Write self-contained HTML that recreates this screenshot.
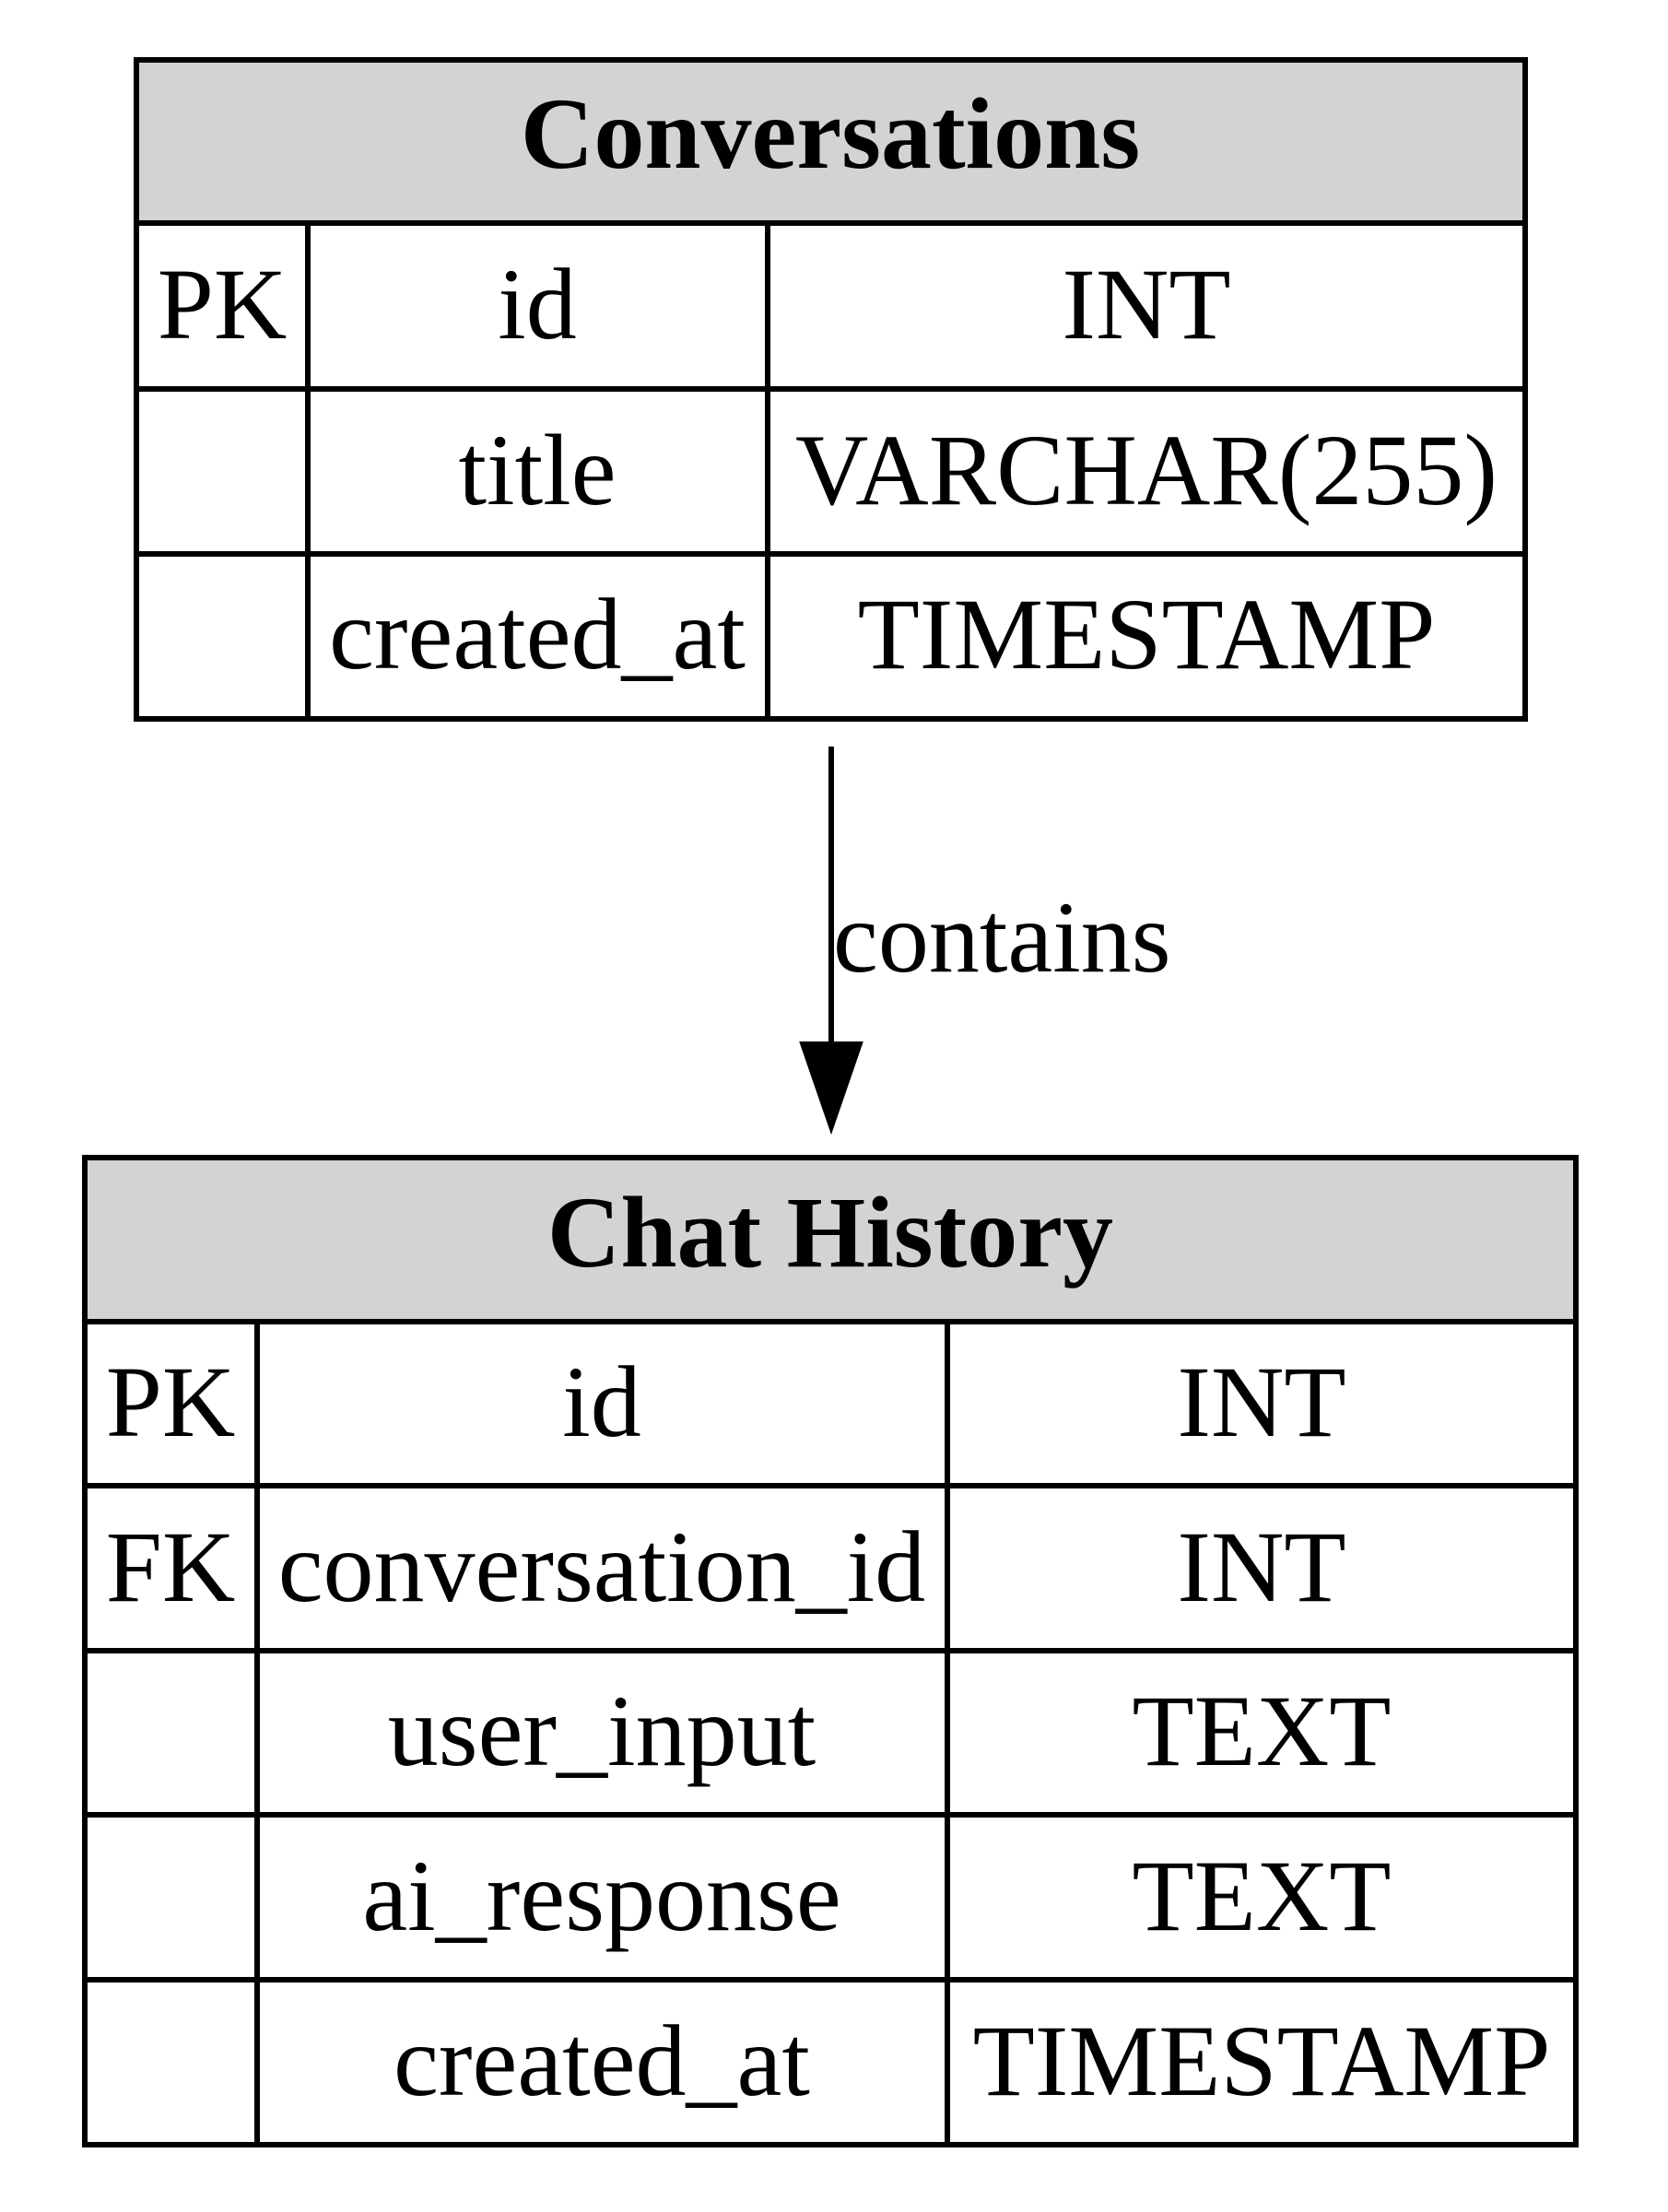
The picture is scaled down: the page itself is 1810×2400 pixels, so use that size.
<!DOCTYPE html>
<html><head><style>html,body{margin:0;padding:0;background:#fff}svg{display:block}text{font-family:"Liberation Serif",serif;font-size:110px;fill:#000}</style></head>
<body>
<svg width="1810" height="2400" viewBox="0 0 1810 2400" xmlns="http://www.w3.org/2000/svg">
<g stroke="#000" stroke-width="6" fill="none">
<rect x="148" y="65" width="1507" height="177" fill="#d3d3d3"/>
<rect x="148" y="65" width="1507" height="715"/>
<line x1="148" y1="242" x2="1655" y2="242"/>
<line x1="148" y1="422" x2="1655" y2="422"/>
<line x1="148" y1="601" x2="1655" y2="601"/>
<line x1="334" y1="242" x2="334" y2="780"/>
<line x1="833" y1="242" x2="833" y2="780"/>

<rect x="92" y="1256" width="1618" height="178" fill="#d3d3d3"/>
<rect x="92" y="1256" width="1618" height="1071"/>
<line x1="92" y1="1434" x2="1710" y2="1434"/>
<line x1="92" y1="1612" x2="1710" y2="1612"/>
<line x1="92" y1="1791" x2="1710" y2="1791"/>
<line x1="92" y1="1969" x2="1710" y2="1969"/>
<line x1="92" y1="2148" x2="1710" y2="2148"/>
<line x1="279" y1="1434" x2="279" y2="2327"/>
<line x1="1028" y1="1434" x2="1028" y2="2327"/>

<line x1="902" y1="810" x2="902" y2="1135"/>
</g>
<polygon points="870,1132 934,1132 902,1225" fill="#000" stroke="#000" stroke-width="4"/>

<g text-anchor="middle">
<text x="901" y="182" font-weight="bold">Conversations</text>
<text x="241" y="367">PK</text><text x="583" y="367">id</text><text x="1244" y="367">INT</text>
<text x="583" y="547">title</text><text x="1244" y="547">VARCHAR(255)</text>
<text x="583" y="725">created_at</text><text x="1244" y="725">TIMESTAMP</text>

<text x="901" y="1374" font-weight="bold">Chat History</text>
<text x="185" y="1558">PK</text><text x="653" y="1558">id</text><text x="1369" y="1558">INT</text>
<text x="185" y="1737">FK</text><text x="653" y="1737">conversation_id</text><text x="1369" y="1737">INT</text>
<text x="653" y="1915">user_input</text><text x="1369" y="1915">TEXT</text>
<text x="653" y="2094">ai_response</text><text x="1369" y="2094">TEXT</text>
<text x="653" y="2273">created_at</text><text x="1369" y="2273">TIMESTAMP</text>
</g>
<text x="904" y="1054">contains</text>
</svg>
</body></html>
